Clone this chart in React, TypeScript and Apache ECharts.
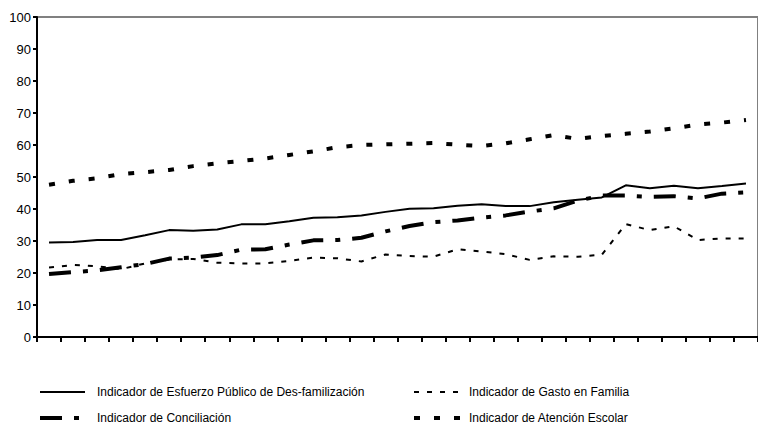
import React, { useEffect, useRef } from "react";
import * as echarts from "echarts";

const categories = [
  "1", "2", "3", "4", "5", "6", "7", "8", "9", "10",
  "11", "12", "13", "14", "15", "16", "17", "18", "19", "20",
  "21", "22", "23", "24", "25", "26", "27", "28", "29", "30",
];

const esfuerzo = [
  29.5, 29.7, 30.3, 30.3, 31.8, 33.4, 33.2, 33.6, 35.2, 35.2,
  36.2, 37.3, 37.4, 38.0, 39.1, 40.1, 40.2, 41.0, 41.5, 40.9,
  40.9, 42.1, 42.9, 43.6, 47.4, 46.5, 47.3, 46.5, 47.2, 48.0,
];

const gasto = [
  21.7, 22.5, 22.1, 21.2, 23.0, 24.2, 24.4, 23.2, 23.0, 23.0,
  23.8, 24.8, 24.6, 23.6, 25.8, 25.3, 25.1, 27.4, 26.7, 25.9,
  24.1, 25.2, 25.1, 25.7, 35.3, 33.4, 34.6, 30.3, 30.8, 30.8,
];

const conciliacion = [
  19.7, 20.3, 20.8, 21.8, 22.8, 24.5, 24.8, 25.6, 27.3, 27.4,
  28.9, 30.2, 30.3, 31.0, 33.0, 34.7, 35.9, 36.4, 37.3, 38.0,
  39.2, 40.2, 42.6, 44.2, 44.2, 43.8, 44.0, 43.3, 44.8, 45.2,
];

const atencion = [
  47.6, 48.8, 49.6, 50.9, 51.5, 52.2, 53.4, 54.3, 55.0, 55.8,
  56.9, 58.0, 59.3, 60.0, 60.2, 60.4, 60.6, 60.1, 59.7, 60.5,
  61.8, 63.1, 61.9, 62.8, 63.5, 64.2, 65.2, 66.4, 67.0, 67.8,
];

const yTicks = { min: 0, max: 100, interval: 10 };

const names = {
  esfuerzo: "Indicador de Esfuerzo Público de Des-familización",
  gasto: "Indicador de Gasto en Familia",
  conciliacion: "Indicador de Conciliación",
  atencion: "Indicador de Atención Escolar",
};

const FONT = "'Liberation Sans', Arial, sans-serif";

export default function App() {
  const ref = useRef<HTMLDivElement>(null);

  useEffect(() => {
    if (!ref.current) return;
    const chart = echarts.init(ref.current, undefined, { renderer: "svg" });

    const styles: Record<string, any> = {
      esfuerzo: { color: "#000", width: 2, type: "solid" },
      gasto: { color: "#000", width: 2, type: [5, 8] },
      conciliacion: { color: "#000", width: 4, type: [22, 12, 5, 12] },
      atencion: { color: "#000", width: 4, type: [6, 14] },
    };

    const hiddenSymbol = {
      color: "rgba(0,0,0,0)",
      borderColor: "rgba(0,0,0,0)",
      borderWidth: 0,
      opacity: 0,
    };

    const mk = (key: string, data: number[]) => ({
      name: (names as any)[key],
      type: "line",
      data,
      symbol: "none",
      lineStyle: styles[key],
      itemStyle: { color: "#000" },
      z: 3,
    });

    const legendText = { fontSize: 12, color: "#000", fontFamily: FONT };

    chart.setOption({
      animation: false,
      backgroundColor: "#fff",
      textStyle: { fontFamily: FONT },
      grid: {
        left: 37,
        top: 17,
        width: 727,
        height: 320,
        show: true,
        borderColor: "#808080",
        borderWidth: 2,
        backgroundColor: "transparent",
      },
      legend: [
        {
          left: 38,
          top: 386,
          orient: "vertical",
          padding: 0,
          itemWidth: 45,
          itemHeight: 14,
          itemGap: 14,
          selectedMode: false,
          textStyle: { ...legendText, padding: [0, 0, 0, 7] },
          data: [
            { name: names.esfuerzo, lineStyle: styles.esfuerzo, itemStyle: hiddenSymbol },
            { name: names.conciliacion, lineStyle: styles.conciliacion, itemStyle: hiddenSymbol },
          ],
        },
        {
          left: 412,
          top: 386,
          orient: "vertical",
          padding: 0,
          itemWidth: 50,
          itemHeight: 14,
          itemGap: 14,
          selectedMode: false,
          textStyle: legendText,
          data: [
            { name: names.gasto, lineStyle: styles.gasto, itemStyle: hiddenSymbol },
            { name: names.atencion, lineStyle: styles.atencion, itemStyle: hiddenSymbol },
          ],
        },
      ],
      xAxis: {
        type: "category",
        data: categories,
        boundaryGap: true,
        axisLine: { lineStyle: { color: "#000", width: 2 } },
        axisTick: { show: true, length: 5, interval: 0, lineStyle: { color: "#000", width: 2 } },
        axisLabel: { show: false },
        splitLine: { show: false },
      },
      yAxis: {
        type: "value",
        min: yTicks.min,
        max: yTicks.max,
        interval: yTicks.interval,
        axisLine: { show: true, lineStyle: { color: "#000", width: 2 } },
        axisTick: { show: true, length: 4, lineStyle: { color: "#000", width: 2 } },
        axisLabel: { fontSize: 13, color: "#000", margin: 6, fontFamily: FONT },
        splitLine: { show: false },
      },
      series: [
        mk("esfuerzo", esfuerzo),
        mk("gasto", gasto),
        mk("conciliacion", conciliacion),
        mk("atencion", atencion),
      ],
    });

    return () => chart.dispose();
  }, []);

  return (
    <div
      ref={ref}
      style={{ position: "fixed", left: 0, top: 0, width: 758, height: 424, background: "#fff" }}
    />
  );
}
